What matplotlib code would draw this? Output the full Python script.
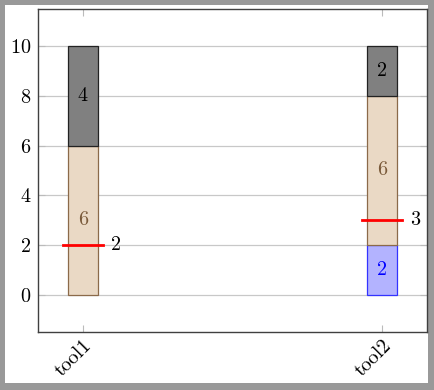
import matplotlib
matplotlib.use("Agg")
import matplotlib.pyplot as plt

# data
tools = ["tool1", "tool2"]
blue_vals = [0, 2]
brown_vals = [6, 6]
gray_vals = [4, 2]
red_marks = [2, 3]

plt.rcParams["font.family"] = "cmr10"
plt.rcParams["mathtext.fontset"] = "cm"
plt.rcParams["axes.formatter.use_mathtext"] = True

fig = plt.figure(figsize=(4.35, 3.9), dpi=100)
fig.patch.set_facecolor("#999999")

# white page inside the grey frame
bg = fig.add_axes((5 / 435, 1 - 383 / 390, 423 / 435, 378 / 390), zorder=-1)
bg.set_axis_off()
bg.add_patch(plt.Rectangle((0, 0), 1, 1, transform=bg.transAxes,
                           facecolor="white", edgecolor="none"))

ax = fig.add_axes((38 / 435, 1 - 332 / 390, 389 / 435, 323 / 390))
x = list(range(len(tools)))
w = 0.1
fs = 14.5

bottoms = [0] * len(tools)
layers = [
    (blue_vals, "#b3b3ff", "#3333ff", "#0000ff"),
    (brown_vals, "#ead9c5", "#8b6a4a", "#7a5a3a"),
    (gray_vals, "#808080", "#222222", "#000000"),
]
for vals, fc, ec, tc in layers:
    for i, v in enumerate(vals):
        if v <= 0:
            continue
        ax.bar(x[i], v, width=w, bottom=bottoms[i], color=fc, edgecolor=ec,
               linewidth=0.9, zorder=3)
        ax.text(x[i], bottoms[i] + v / 2, str(v), ha="center", va="center",
                fontsize=fs, color=tc, zorder=5)
        bottoms[i] += v

for i, r in enumerate(red_marks):
    ax.plot([x[i] - 0.067, x[i] + 0.067], [r, r], color="red", lw=2, zorder=4)
    ax.text(x[i] + 0.093, r, str(r), ha="left", va="center", fontsize=fs, zorder=5)

ax.set_xlim(-0.15, 1.15)
ax.set_ylim(-1.5, 11.5)
ax.set_yticks(range(0, 11, 2))
ax.set_xticks(x)
ax.set_xticklabels(tools, rotation=45, ha="right", rotation_mode="anchor", fontsize=fs)
ax.tick_params(axis="y", labelsize=fs, pad=5)
ax.tick_params(direction="in", color="#bbbbbb", length=5, top=True, right=True)
ax.grid(axis="y", color="#c8c8c8", lw=0.9, zorder=0)
ax.set_axisbelow(True)
for s in ax.spines.values():
    s.set_color("#404040")
    s.set_linewidth(1.0)

fig.savefig("out.png", dpi=100, facecolor=fig.get_facecolor())
